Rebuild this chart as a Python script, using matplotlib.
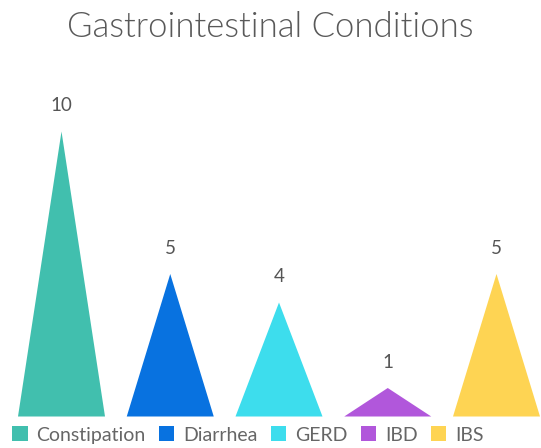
import matplotlib.pyplot as plt
from matplotlib.patches import Patch

# data
conditions = ["Constipation", "Diarrhea", "GERD", "IBD", "IBS"]
counts = [10, 5, 4, 1, 5]
colors = ["#41BFAE", "#0872E0", "#3DDDED", "#B157DB", "#FED453"]

plt.rcParams['font.family'] = ['Lato', 'DejaVu Sans']

fig = plt.figure(figsize=(5.41, 4.48), dpi=100)
# axes placed in pixel terms: baseline at 416.5px from top
W, H = 541, 448
ax = fig.add_axes([0, (H - 416.5) / H, 1, (416.5 - 100) / H])

px_per_unit = 108.75
ax.set_xlim(-61.5 / px_per_unit, (W - 61.5) / px_per_unit)
ax.set_ylim(0, (416.5 - 100) / 28.5)

width = 0.8
for i, (name, v, c) in enumerate(zip(conditions, counts, colors)):
    ax.fill([i - width / 2, i, i + width / 2], [0, v, 0], color=c, lw=0)
    ax.annotate(str(v), (i, v), xytext=(0, 18.5), textcoords="offset points",
                ha="center", va="center", fontsize=13.5, color="#555555")

ax.axis("off")

fig.text(0.5, (H - 27) / H, "Gastrointestinal Conditions", ha="center", va="center",
         fontsize=25, color="#595959", fontweight=300)

handles = [Patch(facecolor=c, edgecolor="none") for c in colors]
fig.legend(handles, conditions, loc="center left", bbox_to_anchor=(12 / W, 13 / H),
           ncol=5, frameon=False, fontsize=14, handlelength=0.8, handleheight=0.8,
           handletextpad=0.45, columnspacing=0.68, borderpad=0, borderaxespad=0,
           labelcolor="#666666")

fig.savefig("out.png", dpi=100)
